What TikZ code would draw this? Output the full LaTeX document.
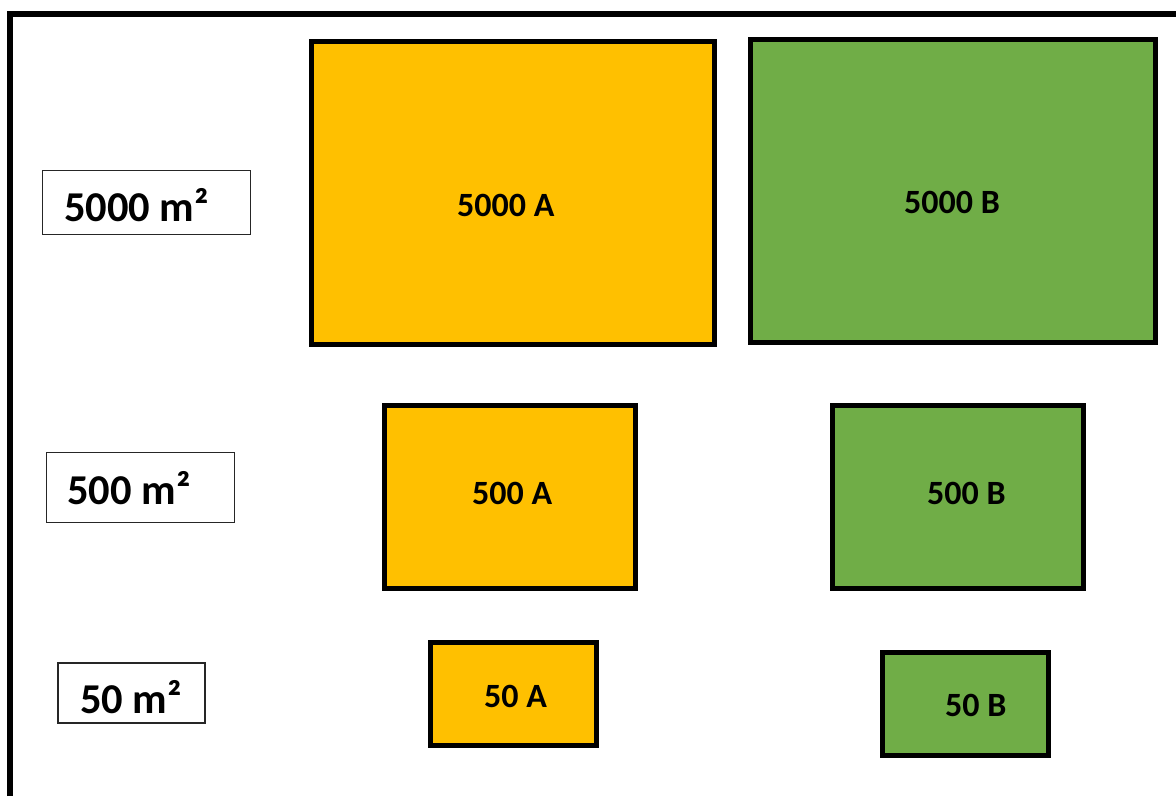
\documentclass[tikz,border=0pt]{standalone}
\usepackage{fontspec}
\setmainfont{Carlito}
\definecolor{orangeA}{HTML}{FFC000}
\definecolor{greenB}{HTML}{70AD47}
\begin{document}
\begin{tikzpicture}[x=1pt,y=-1pt,
  areabox/.style={draw=black,line width=5.5pt,inner sep=0pt,outer sep=0pt},
  orangebox/.style={areabox,fill=orangeA},
  greenbox/.style={areabox,fill=greenB},
  tagbox/.style={draw=black!85,line width=1.8pt,fill=white,inner sep=0pt,outer sep=0pt},
  boxtext/.style={anchor=base west,inner sep=0pt,font=\fontsize{34}{40}\selectfont\bfseries},
  tagtext/.style={anchor=base west,inner sep=0pt,font=\fontsize{42.5}{48}\selectfont\bfseries}]
\useasboundingbox (0,0) rectangle (1176,796);
\fill[white] (0,0) rectangle (1176,796);
% frame
\draw[line width=6pt] (10,796) -- (10,14) -- (1176,14);
% area boxes
\node[orangebox,minimum width=403pt,minimum height=303pt] (b5000a) at (513,193) {};
\node[greenbox,minimum width=405pt,minimum height=303pt] (b5000b) at (953,191) {};
\node[orangebox,minimum width=251pt,minimum height=183pt] (b500a) at (510,497) {};
\node[greenbox,minimum width=251pt,minimum height=183pt] (b500b) at (958,497) {};
\node[orangebox,minimum width=166pt,minimum height=103pt] (b50a) at (513.5,694) {};
\node[greenbox,minimum width=166pt,minimum height=103pt] (b50b) at (965.5,704) {};
% box texts
\node[boxtext] (t5000a) at (457,216) {5000 A};
\node[boxtext] (t5000b) at (904,213) {5000 B};
\node[boxtext] (t500a) at (472,504) {500 A};
\node[boxtext] (t500b) at (927,504) {500 B};
\node[boxtext] (t50a) at (484,707) {50 A};
\node[boxtext] (t50b) at (945,716) {50 B};
% size tags
\node[tagbox,minimum width=208pt,minimum height=64pt] (g5000) at (146.5,202.5) {};
\node[tagbox,minimum width=188pt,minimum height=70pt] (g500) at (140.5,487.5) {};
\node[tagbox,minimum width=147pt,minimum height=60pt] (g50) at (131.5,693) {};
\node[tagtext] (s5000) at (64,221) {5000 m²};
\node[tagtext] (s500) at (67,504) {500 m²};
\node[tagtext] (s50) at (80,713) {50 m²};
\end{tikzpicture}
\end{document}
